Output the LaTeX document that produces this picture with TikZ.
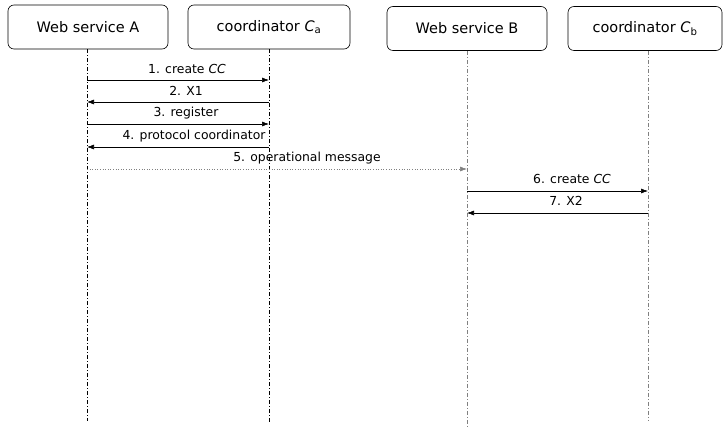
\documentclass[tikz,border=0pt]{standalone}
\usepackage{fontspec}
\setmainfont{DejaVu Sans}
\usetikzlibrary{arrows.meta}
\begin{document}
\begin{tikzpicture}[x=1pt,y=-1pt,
  party/.style={draw, rounded corners=6pt, line width=0.6pt, minimum height=44pt, inner sep=0pt, font=\fontsize{14.5}{16}\selectfont},
  life/.style={line width=0.5pt, dash pattern=on 4pt off 2pt on 1pt off 2pt},
  msg/.style={line width=0.6pt, -{Latex[length=7pt,width=5pt]}},
  opmsg/.style={line width=0.6pt, gray, dotted, -{Latex[length=7pt,width=5pt]}},
  lbl/.style={font=\fontsize{12.4}{14}\selectfont, inner sep=1pt}]
\useasboundingbox (0,0) rectangle (725,430);
\node[party, minimum width=160pt] (A) at (88,27) {Web service A};
\node[party, minimum width=162pt] (Ca) at (269,27) {coordinator $\mathit{C}_{\mathrm{a}}$};
\node[party, minimum width=160pt] (B) at (467,28.5) {Web service B};
\node[party, minimum width=154pt] (Cb) at (645,28.5) {coordinator $\mathit{C}_{\mathrm{b}}$};
\coordinate (Ae) at (87,421);
\coordinate (Cae) at (269,422);
\coordinate (Be) at (467,428);
\coordinate (Cbe) at (648,421);
\draw[life] (A.south -| Ae) -- (Ae);
\draw[life] (Ca.south -| Cae) -- (Cae);
\draw[life, gray] (B.south -| Be) -- (Be);
\draw[life, gray] (Cb.south -| Cbe) -- (Cbe);
% messages
\coordinate (a1) at (87,80);  \coordinate (c1) at (269,80);
\coordinate (a2) at (87,102); \coordinate (c2) at (269,102);
\coordinate (a3) at (87,124); \coordinate (c3) at (269,124);
\coordinate (a4) at (87,147); \coordinate (c4) at (269,147);
\coordinate (a5) at (87,169); \coordinate (b5) at (467,169);
\coordinate (b6) at (467,191); \coordinate (d6) at (648,191);
\coordinate (b7) at (467,213); \coordinate (d7) at (648,213);
\draw[msg] (a1) -- (c1);
\draw[msg] (c2) -- (a2);
\draw[msg] (a3) -- (c3);
\draw[msg] (c4) -- (a4);
\draw[opmsg] (a5) -- (b5);
\draw[msg] (b6) -- (d6);
\draw[msg] (d7) -- (b7);
\node[lbl] (l1) at (187,69) {1. create \textit{CC}};
\node[lbl] (l2) at (186,91) {2. X1};
\node[lbl] (l3) at (186,113) {3. register};
\node[lbl] (l4) at (194,136) {4. protocol coordinator};
\node[lbl] (l5) at (307,158) {5. operational message};
\node[lbl] (l6) at (572,179) {6. create \textit{CC}};
\node[lbl] (l7) at (566,201) {7. X2};
\end{tikzpicture}
\end{document}
